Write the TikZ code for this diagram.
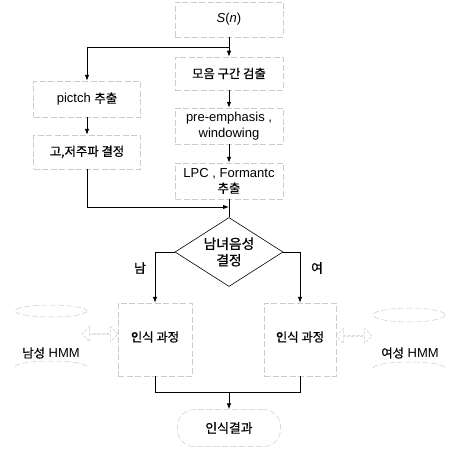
\documentclass[tikz,border=0pt]{standalone}
\usepackage{fontspec}
\setmainfont{Liberation Sans}
\newfontfamily\kr[Scale=0.95,FakeBold=0.8]{Noto Sans CJK KR}
\usetikzlibrary{shapes.geometric,shapes.arrows,arrows.meta}
\tikzset{
  faint/.style={draw=gray!40, line width=0.5pt, dash pattern=on 6pt off 2.5pt},
  procbox/.style={faint, rectangle, minimum width=108pt, minimum height=35pt, inner sep=1pt, align=center, font=\fontsize{13}{15.5}\selectfont},
  flow/.style={draw=black, line width=0.8pt, -{Latex[length=6pt,width=4.5pt]}},
  line/.style={draw=black, line width=0.8pt},
  lbl/.style={font=\fontsize{13.5}{14}\selectfont\kr},
  darrow/.style={double arrow, faint, dash pattern=on 3pt off 1.5pt, minimum width=15pt, minimum height=36pt, double arrow head extend=3pt, inner sep=0pt}
}
\begin{document}
\begin{tikzpicture}[x=1pt,y=-1pt]
\useasboundingbox (0,0) rectangle (450,452);
% right column
\node[procbox, minimum height=35pt] (sn) at (229,19.5) {\raisebox{4pt}{\textit{S}(\textit{n})}};
\node[procbox, minimum height=33pt] (vowel) at (229,73.5) {\kr 모음 구간 검출};
\node[procbox, minimum height=36pt] (pre) at (229,126) {pre-emphasis ,\\windowing};
\node[procbox, minimum height=36pt] (lpc) at (229,181) {LPC , Formantc\\{\kr 추출}};
% left column
\node[procbox, minimum width=107pt, minimum height=36pt] (pitch) at (87,99) {pictch {\kr 추출}};
\node[procbox, minimum width=107pt, minimum height=34pt] (hilo) at (87,152) {\kr 고,저주파 결정};
% diamond
\node[diamond, draw=black, line width=0.6pt, aspect=1.56, inner sep=0pt, minimum width=108pt, minimum height=69pt, align=center, font=\fontsize{14.5}{16.5}\selectfont\kr] (dia) at (229,252) {남녀음성\\결정};
% recognition boxes
\node[procbox, minimum width=74pt, minimum height=73pt] (recL) at (155,339.5) {\raisebox{6pt}{\kr 인식 과정}};
\node[procbox, minimum width=72pt, minimum height=73pt] (recR) at (300,339.5) {\raisebox{6pt}{\kr 인식 과정}};
% HMM cylinders
\node[font=\fontsize{13}{14}\selectfont] (mhmm) at (51,353) {{\kr 남성} HMM};
\node[font=\fontsize{13}{14}\selectfont] (fhmm) at (410,353) {{\kr 여성} HMM};
\draw[faint] (51,311) ellipse [x radius=36, y radius=6];
\draw[faint] (15,367) arc [start angle=180, end angle=360, x radius=36, y radius=6];
\draw[faint] (409,315) ellipse [x radius=36, y radius=7];
\draw[faint] (373,368) arc [start angle=180, end angle=360, x radius=36, y radius=6];
\node[darrow] (dl) at (100,334) {};
\node[darrow] (dr) at (354,336) {};
% result
\node[faint, rectangle, rounded corners=17pt, minimum width=103pt, minimum height=37pt, font=\fontsize{13.5}{14}\selectfont\kr] (res) at (229,428) {인식결과};
% connectors
\coordinate (br) at (229,47);
\coordinate (jn) at (229,207);
\coordinate (mg) at (229,392);
\draw[flow] (sn.south) -- (vowel.north);
\draw[flow] (br) -| (pitch.north);
\draw[flow] (vowel.south) -- (pre.north);
\draw[flow] (pre.south) -- (lpc.north);
\draw[flow] (pitch.south) -- (hilo.north);
\draw[line] (lpc.south) -- (dia.north);
\draw[flow] (hilo.south) |- (jn);
\draw[flow] (dia.west) -| (recL.north);
\draw[flow] (dia.east) -| (recR.north);
\node[lbl] (lm) at (140,268) {남};
\node[lbl] (lf) at (317,268) {여};
\draw[line] (recL.south) |- (mg);
\draw[line] (recR.south) |- (mg);
\draw[flow] (mg) -- (res.north);
\end{tikzpicture}
\end{document}
